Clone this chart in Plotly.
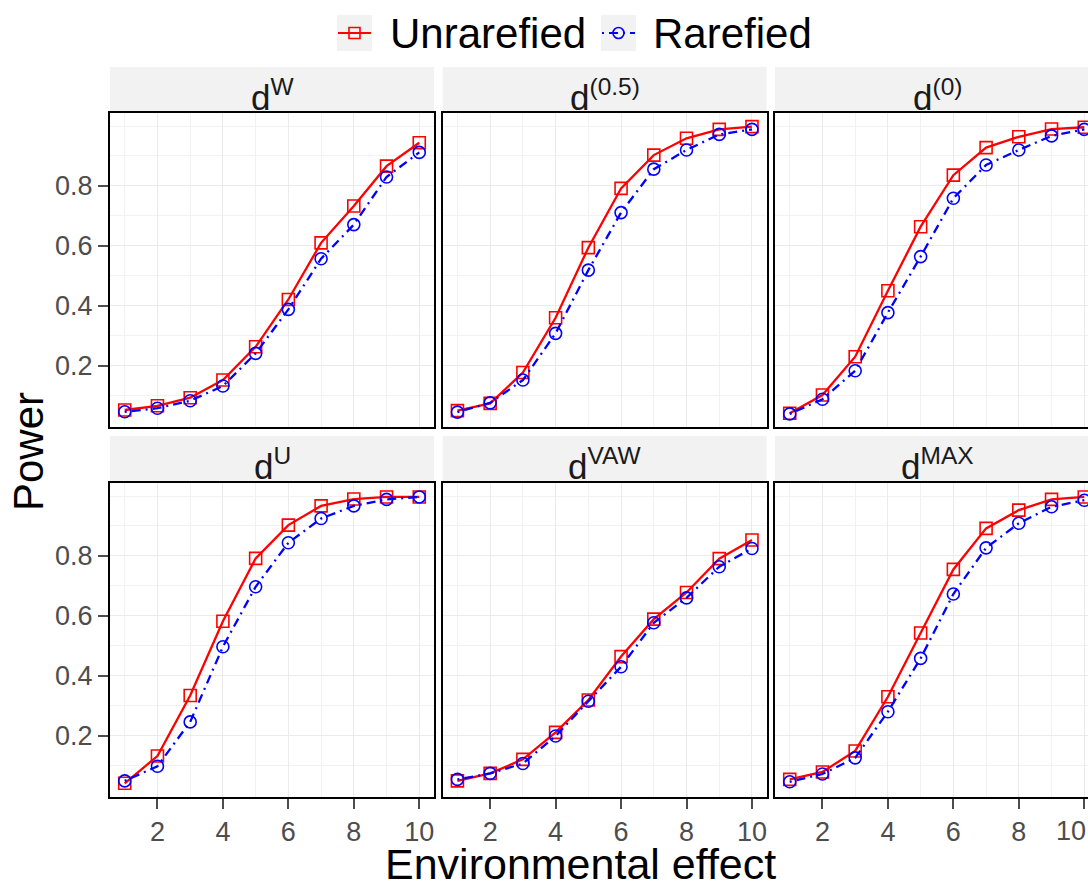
import plotly.graph_objects as go
from plotly.subplots import make_subplots

# ---------------- data ----------------
effect = [1, 2, 3, 4, 5, 6, 7, 8, 9, 10]
x_ticks = [2, 4, 6, 8, 10]
y_ticks = [0.2, 0.4, 0.6, 0.8]
y_tick_text = ["0.2", "0.4", "0.6", "0.8"]
panel_titles = ["d<sup>W</sup>", "d<sup>(0.5)</sup>", "d<sup>(0)</sup>",
                "d<sup>U</sup>", "d<sup>VAW</sup>", "d<sup>MAX</sup>"]
series_names = ["Unrarefied", "Rarefied"]

unrarefied_dW = [0.052, 0.066, 0.093, 0.152, 0.263, 0.421, 0.610, 0.733, 0.866, 0.944]
rarefied_dW = [0.046, 0.058, 0.083, 0.132, 0.241, 0.388, 0.557, 0.671, 0.830, 0.912]

unrarefied_d05 = [0.050, 0.074, 0.177, 0.360, 0.594, 0.792, 0.903, 0.959, 0.989, 0.998]
rarefied_d05 = [0.045, 0.076, 0.152, 0.308, 0.519, 0.711, 0.856, 0.920, 0.972, 0.989]

unrarefied_d0 = [0.041, 0.102, 0.230, 0.450, 0.664, 0.836, 0.928, 0.964, 0.990, 0.996]
rarefied_d0 = [0.039, 0.088, 0.183, 0.377, 0.564, 0.759, 0.870, 0.920, 0.967, 0.989]

unrarefied_dU = [0.041, 0.132, 0.334, 0.582, 0.792, 0.903, 0.967, 0.990, 0.997, 0.997]
rarefied_dU = [0.049, 0.098, 0.246, 0.497, 0.697, 0.844, 0.925, 0.967, 0.989, 0.997]

unrarefied_dVAW = [0.049, 0.074, 0.121, 0.211, 0.319, 0.464, 0.589, 0.678, 0.791, 0.853]
rarefied_dVAW = [0.054, 0.074, 0.107, 0.199, 0.315, 0.430, 0.577, 0.660, 0.764, 0.825]

unrarefied_dMAX = [0.054, 0.079, 0.149, 0.330, 0.543, 0.755, 0.892, 0.953, 0.989, 0.997]
rarefied_dMAX = [0.046, 0.072, 0.126, 0.280, 0.458, 0.673, 0.827, 0.909, 0.964, 0.986]

unrarefied_all = [unrarefied_dW, unrarefied_d05, unrarefied_d0,
                  unrarefied_dU, unrarefied_dVAW, unrarefied_dMAX]
rarefied_all = [rarefied_dW, rarefied_d05, rarefied_d0,
                rarefied_dU, rarefied_dVAW, rarefied_dMAX]

# ---------------- layout constants ----------------
W, H = 1088, 886
FONT = "Liberation Sans, Arial, Helvetica, sans-serif"
RED = "#FF0000"
BLUE = "#0000FF"
BLUE_DASH = "2px,5px,9px,5px"
TICK_GRAY = "#4D4D4D"

col_px = [(110.0, 434.0), (442.7, 766.7), (775.0, 1099.0)]
row_px = [(112.7, 426.7), (482.7, 796.7)]
strip_px = [(67.0, 113.0), (436.0, 483.0)]
x_lo, x_hi = 0.55, 10.45
y_lo, y_hi = -0.0037, 1.0445


def px_x(p):
    return p / W


def px_y(p):
    return 1 - p / H


fig = make_subplots(rows=2, cols=3)

for i in range(6):
    r, c = i // 3 + 1, i % 3 + 1
    fig.add_trace(go.Scatter(
        x=effect, y=unrarefied_all[i], mode="lines+markers", name=series_names[0],
        line=dict(color=RED, width=2.3),
        marker=dict(symbol="square-open", size=12, color=RED, line=dict(width=1.6, color=RED)),
        showlegend=False), row=r, col=c)
    fig.add_trace(go.Scatter(
        x=effect, y=rarefied_all[i], mode="lines+markers", name=series_names[1],
        line=dict(color=BLUE, width=2.3, dash=BLUE_DASH),
        marker=dict(symbol="circle-open", size=12, color=BLUE, line=dict(width=1.6, color=BLUE)),
        showlegend=False), row=r, col=c)

for i in range(6):
    ri, ci = i // 3, i % 3
    sfx = "" if i == 0 else str(i + 1)
    x0p, x1p = col_px[ci]
    y0p, y1p = row_px[ri]
    x_dom_hi = min(x1p, W)
    rng_hi = x_lo + (x_hi - x_lo) * (x_dom_hi - x0p) / (x1p - x0p)
    fig.layout["xaxis" + sfx].update(
        domain=[px_x(x0p), px_x(x_dom_hi)],
        range=[x_lo, rng_hi],
        tickmode="array", tickvals=x_ticks,
        showgrid=True, gridcolor="#EBEBEB", gridwidth=1.3,
        minor=dict(tickmode="array", tickvals=[1, 3, 5, 7, 9], showgrid=True,
                   gridcolor="#F2F2F2", gridwidth=1),
        zeroline=False, showline=True, linecolor="black", linewidth=2, mirror=True,
        ticks="outside" if ri == 1 else "", ticklen=10, tickwidth=2, tickcolor=TICK_GRAY,
        showticklabels=(ri == 1),
        tickfont=dict(family=FONT, size=27, color=TICK_GRAY),
    )
    fig.layout["yaxis" + sfx].update(
        domain=[px_y(y1p), px_y(y0p)],
        range=[y_lo, y_hi],
        tickmode="array", tickvals=y_ticks, ticktext=y_tick_text,
        showgrid=True, gridcolor="#EBEBEB", gridwidth=1.3,
        minor=dict(tickmode="array", tickvals=[0.1, 0.3, 0.5, 0.7, 0.9, 1.0], showgrid=True,
                   gridcolor="#F2F2F2", gridwidth=1),
        zeroline=False, showline=True, linecolor="black", linewidth=2,
        mirror=(ci != 2),
        ticks="outside" if ci == 0 else "", ticklen=10, tickwidth=2, tickcolor=TICK_GRAY,
        showticklabels=(ci == 0),
        tickfont=dict(family=FONT, size=27, color=TICK_GRAY),
    )

shapes = []
annotations = []

# strips
for i in range(6):
    ri, ci = i // 3, i % 3
    x0p, x1p = col_px[ci]
    s0, s1 = strip_px[ri]
    shapes.append(dict(type="rect", xref="paper", yref="paper",
                       x0=px_x(x0p), x1=px_x(min(x1p, W)), y0=px_y(s1), y1=px_y(s0),
                       fillcolor="#F2F2F2", line=dict(width=0), layer="below"))
    annotations.append(dict(text=panel_titles[i], xref="paper", yref="paper",
                            x=px_x((x0p + x1p) / 2), y=px_y(s0 + 28), xanchor="center", yanchor="middle",
                            showarrow=False, font=dict(family=FONT, size=35, color="#1A1A1A")))

# last tick label of the clipped right column (it sits on the page edge)
annotations.append(dict(text=str(x_ticks[-1]), xref="paper", yref="paper",
                        x=1.0, y=px_y(831), xanchor="right", yanchor="middle",
                        showarrow=False, font=dict(family=FONT, size=27, color=TICK_GRAY)))

# legend (manual)
leg_y = 33
keys = [(337, 372, RED, "solid", "rect", 388, series_names[0]),
        (601, 636, BLUE, BLUE_DASH, "circle", 651, series_names[1])]
for k0, k1, col, dash, sym, tx, label in keys:
    shapes.append(dict(type="rect", xref="paper", yref="paper",
                       x0=px_x(k0), x1=px_x(k1), y0=px_y(leg_y + 18), y1=px_y(leg_y - 18),
                       fillcolor="#F2F2F2", line=dict(width=0)))
    shapes.append(dict(type="line", xref="paper", yref="paper",
                       x0=px_x(k0 + 1), x1=px_x(k1 - 1), y0=px_y(leg_y), y1=px_y(leg_y),
                       line=dict(color=col, width=2, dash=dash)))
    cx = (k0 + k1) / 2
    shapes.append(dict(type=sym, xref="paper", yref="paper",
                       x0=px_x(cx - 5.5), x1=px_x(cx + 5.5), y0=px_y(leg_y + 5.5), y1=px_y(leg_y - 5.5),
                       fillcolor="rgba(0,0,0,0)", line=dict(color=col, width=1.6)))
    annotations.append(dict(text=label, xref="paper", yref="paper", x=px_x(tx), y=px_y(leg_y),
                            xanchor="left", yanchor="middle", showarrow=False,
                            font=dict(family=FONT, size=42, color="black")))

# axis titles
annotations.append(dict(text="Environmental effect", xref="paper", yref="paper",
                        x=px_x(580), y=px_y(864), xanchor="center", yanchor="middle",
                        showarrow=False, font=dict(family=FONT, size=43, color="black")))
annotations.append(dict(text="Power", xref="paper", yref="paper", textangle=-90,
                        x=px_x(29), y=px_y(452), xanchor="center", yanchor="middle",
                        showarrow=False, font=dict(family=FONT, size=42, color="black")))

fig.update_layout(
    width=W, height=H,
    margin=dict(l=0, r=0, t=0, b=0),
    paper_bgcolor="white", plot_bgcolor="white",
    showlegend=False,
    shapes=shapes, annotations=annotations,
    font=dict(family=FONT),
)

fig.write_html("out.html")
